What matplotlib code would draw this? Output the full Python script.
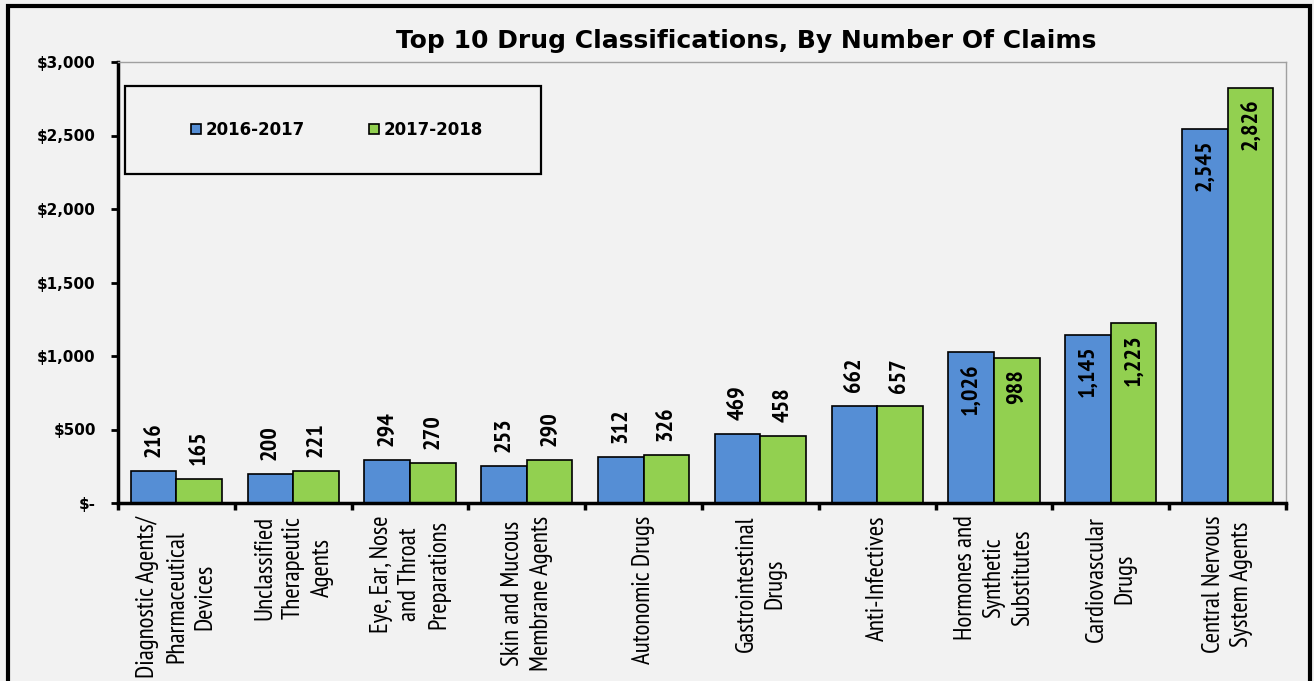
import matplotlib
matplotlib.use("Agg")
import matplotlib.pyplot as plt
import matplotlib.patches as mpatches
import numpy as np

# claims per drug class, two fiscal years
categories = [
    "Diagnostic Agents/\nPharmaceutical\nDevices",
    "Unclassified\nTherapeutic\nAgents",
    "Eye, Ear, Nose\nand Throat\nPreparations",
    "Skin and Mucous\nMembrane Agents",
    "Autonomic Drugs",
    "Gastrointestinal\nDrugs",
    "Anti-Infectives",
    "Hormones and\nSynthetic\nSubstitutes",
    "Cardiovascular\nDrugs",
    "Central Nervous\nSystem Agents",
]
claims_2016_2017 = [216, 200, 294, 253, 312, 469, 662, 1026, 1145, 2545]
claims_2017_2018 = [165, 221, 270, 290, 326, 458, 657, 988, 1223, 2826]
series_names = ["2016-2017", "2017-2018"]
y_ticks = [0, 500, 1000, 1500, 2000, 2500, 3000]
y_tick_labels = ["$-", "$500", "$1,000", "$1,500", "$2,000", "$2,500", "$3,000"]

BG = "#f2f2f2"
BLUE = "#558ed5"
GREEN = "#92d050"
NARROW = ["PT Sans Narrow", "Roboto Condensed", "DejaVu Sans"]
WIDE = ["DejaVu Sans"]

fig = plt.figure(figsize=(13.14, 6.81), dpi=100, facecolor=BG)
ax = fig.add_axes([118 / 1314, 1 - 503 / 681, 1168 / 1314, 441 / 681])
ax.set_facecolor(BG)

x = np.arange(len(categories))
w = 0.39
b1 = ax.bar(x - w / 2, claims_2016_2017, w, color=BLUE, edgecolor="black", linewidth=1.2, label=series_names[0])
b2 = ax.bar(x + w / 2, claims_2017_2018, w, color=GREEN, edgecolor="black", linewidth=1.2, label=series_names[1])

ax.set_xlim(-0.5, len(categories) - 0.5)
ax.set_ylim(0, 3000)

# value labels: above short bars, inside the tall ones
for bars, vals in ((b1, claims_2016_2017), (b2, claims_2017_2018)):
    for rect, v in zip(bars, vals):
        cx = rect.get_x() + rect.get_width() / 2
        inside = v >= 900
        ax.annotate(f"{v:,}", (cx, v), xytext=(0, -8 if inside else 10),
                    textcoords="offset points", rotation=90, ha="center",
                    va="top" if inside else "bottom", fontsize=17.5,
                    fontweight="bold", family=NARROW)

# y axis
ax.set_yticks(y_ticks)
ax.set_yticklabels(y_tick_labels, fontsize=11, fontweight="bold", family=WIDE)
ax.tick_params(axis="y", direction="out", length=5, width=2, pad=11)

# x axis: ticks between groups, labels at group centres
ax.set_xticks(np.arange(len(categories) + 1) - 0.5)
ax.set_xticklabels([])
ax.tick_params(axis="x", which="major", direction="out", length=5, width=2.5)
ax.set_xticks(x, minor=True)
ax.set_xticklabels(categories, minor=True, rotation=90, fontsize=18,
                   family=NARROW, multialignment="center", linespacing=1.32)
ax.tick_params(axis="x", which="minor", length=0, pad=9)

for side in ("left", "bottom"):
    ax.spines[side].set_linewidth(2.5)
    ax.spines[side].set_color("black")
for side in ("top", "right"):
    ax.spines[side].set_linewidth(1)
    ax.spines[side].set_color("#a0a0a0")

# legend in a boxed panel
box = mpatches.Rectangle(((125 - 118) / 1168, (503 - 174) / 441), 416 / 1168, 88 / 441,
                         transform=ax.transAxes, fill=False, edgecolor="black",
                         linewidth=1.6, zorder=5)
ax.add_patch(box)
ax.legend(handles=[b1, b2], loc="center", ncol=2, frameon=False,
          bbox_to_anchor=((337 - 118) / 1168, (503 - 130) / 441),
          prop={"family": WIDE, "weight": "bold", "size": 12},
          handlelength=0.6, handleheight=0.6, handletextpad=0.3, columnspacing=3.8)

fig.text(746 / 1314, 1 - 48 / 681, "Top 10 Drug Classifications, By Number Of Claims",
         ha="center", va="baseline", fontsize=18, fontweight="bold", family=WIDE)

# outer frame
fig.patches.append(mpatches.Rectangle((8 / 1314, -0.05), 1302 / 1314, 1.05 - 6 / 681,
                                      transform=fig.transFigure, fill=False,
                                      edgecolor="black", linewidth=3))

fig.savefig("out.png", dpi=100, facecolor=BG)
